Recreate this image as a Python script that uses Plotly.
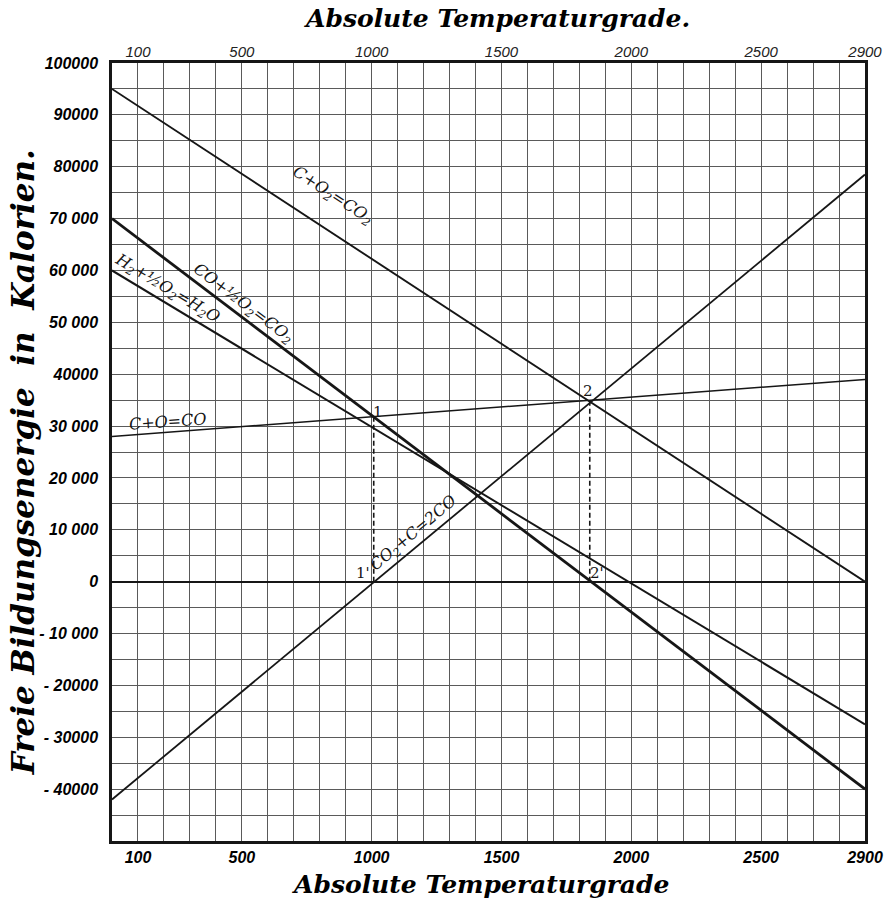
import plotly.graph_objects as go

# ---- data ----
temps = [0, 2900]                      # absolute temperature at left / right edge
c_o2_co2 = [95000, 0]                  # C + O2 = CO2
co_half_o2 = [70000, -40000]           # CO + 1/2 O2 = CO2
h2_half_o2 = [60000, -27500]           # H2 + 1/2 O2 = H2O
c_o_co = [28000, 39000]                # C + O = CO
co2_c_2co = [-42000, 78500]            # CO2 + C = 2CO

drop1_t = [1008, 1008]                 # dashed 1 - 1'
drop1_g = [0, 31800]
drop2_t = [1840, 1840]                 # dashed 2 - 2'
drop2_g = [0, 34900]

x_ticks = [100, 500, 1000, 1500, 2000, 2500, 2900]
x_ticktext = ["100", "500", "1000", "1500", "2000", "2500", "2900"]
y_ticks = [100000, 90000, 80000, 70000, 60000, 50000, 40000, 30000, 20000,
           10000, 0, -10000, -20000, -30000, -40000]
y_ticktext = ["100000", "90000", "80000", "70 000", "60 000", "50 000", "40000",
              "30 000", "20 000", "10 000", "0", "- 10 000", "- 20000",
              "- 30000", "- 40000"]

INK = "#161616"
GRID = "#5a5a5a"

fig = go.Figure()

series = [
    (c_o2_co2, 1.9),
    (co_half_o2, 2.8),
    (h2_half_o2, 2.0),
    (c_o_co, 1.5),
    (co2_c_2co, 1.8),
]
for ys, w in series:
    fig.add_trace(go.Scatter(x=temps, y=ys, mode="lines",
                             line=dict(color=INK, width=w),
                             hoverinfo="skip", showlegend=False))

for tx, gy in [(drop1_t, drop1_g), (drop2_t, drop2_g)]:
    fig.add_trace(go.Scatter(x=tx, y=gy, mode="lines",
                             line=dict(color=INK, width=1.6, dash="5px,3px"),
                             hoverinfo="skip", showlegend=False))

# invisible trace so the top axis is drawn
fig.add_trace(go.Scatter(x=temps, y=[None, None], xaxis="x2", mode="lines",
                         hoverinfo="skip", showlegend=False))

label_font = dict(family="DejaVu Serif", size=16, color=INK, style="italic")

line_labels = [
    ("C+O<sub>2</sub>=CO<sub>2</sub>", 850, 74500, 33),
    ("CO+½O<sub>2</sub>=CO<sub>2</sub>", 505, 53600, 37),
    ("H<sub>2</sub>+½O<sub>2</sub>=H<sub>2</sub>O", 212, 56600, 31),
    ("C+O=CO", 216, 30800, -4),
    ("CO<sub>2</sub>+C=2CO", 1160, 9300, -40),
]
for txt, lx, ly, ang in line_labels:
    fig.add_annotation(x=lx, y=ly, text=txt, showarrow=False, textangle=ang,
                       font=label_font, xref="x", yref="y")

point_labels = [("1", 1024, 32800), ("1'", 967, 1700), ("2", 1833, 36700), ("2'", 1868, 1700)]
for txt, lx, ly in point_labels:
    fig.add_annotation(x=lx, y=ly, text=txt, showarrow=False,
                       font=dict(family="DejaVu Serif", size=15, color=INK),
                       xref="x", yref="y")

title_font = dict(family="DejaVu Serif", size=25, color="#000000",
                  style="italic", weight="bold")
fig.add_annotation(text="Absolute Temperaturgrade.", xref="paper", yref="paper",
                   x=0.511, y=1.057, xanchor="center", yanchor="middle",
                   showarrow=False, font=title_font)
fig.add_annotation(text="Absolute Temperaturgrade", xref="paper", yref="paper",
                   x=0.49, y=-0.056, xanchor="center", yanchor="middle",
                   showarrow=False, font=title_font)
fig.add_annotation(text="Freie Bildungsenergie  in  Kalorien.", xref="paper",
                   yref="paper", x=-0.118, y=0.487, xanchor="center",
                   yanchor="middle", showarrow=False, textangle=-90,
                   font=dict(family="DejaVu Serif", size=31, color="#000000",
                             style="italic", weight="bold"))

tick_font = dict(family="Liberation Sans", size=16, color="#000000",
                 weight="bold", style="italic")

# plot area at x 112..865, y 63..841 of the 894x903 page
fig.update_layout(
    width=894, height=903,
    margin=dict(l=112, r=29, t=63, b=62, autoexpand=False),
    paper_bgcolor="white", plot_bgcolor="white",
    xaxis=dict(range=[0, 2900], tickmode="array", tickvals=x_ticks,
               ticktext=x_ticktext, tickfont=tick_font, ticks="",
               automargin=False,
               showgrid=True, gridcolor=GRID, gridwidth=1.2,
               minor=dict(dtick=100, tick0=0, showgrid=True, gridcolor=GRID,
                          gridwidth=1.2),
               showline=True, linecolor=INK, linewidth=2.5, mirror=True,
               zeroline=False, ticklabelstandoff=0),
    xaxis2=dict(range=[0, 2900], overlaying="x", side="top", tickmode="array",
                tickvals=x_ticks, ticktext=x_ticktext, ticks="",
                automargin=False,
                tickfont=dict(family="Liberation Sans", size=15, color="#222222",
                              style="italic"),
                showgrid=False, zeroline=False, showline=False,
                ticklabelstandoff=2),
    yaxis=dict(range=[-50000, 100000], tickmode="array", tickvals=y_ticks,
               ticktext=y_ticktext, tickfont=tick_font, ticks="",
               automargin=False,
               showgrid=True, gridcolor=GRID, gridwidth=1.2,
               minor=dict(dtick=5000, tick0=0, showgrid=True, gridcolor=GRID,
                          gridwidth=1.2),
               showline=True, linecolor=INK, linewidth=2.5, mirror=True,
               zeroline=True, zerolinecolor=INK, zerolinewidth=2,
               ticklabelstandoff=8),
)

fig.write_html(
    "out.html",
    config={"displayModeBar": False},
    post_script="document.body.style.margin='0px';document.body.style.overflow='hidden';",
)
